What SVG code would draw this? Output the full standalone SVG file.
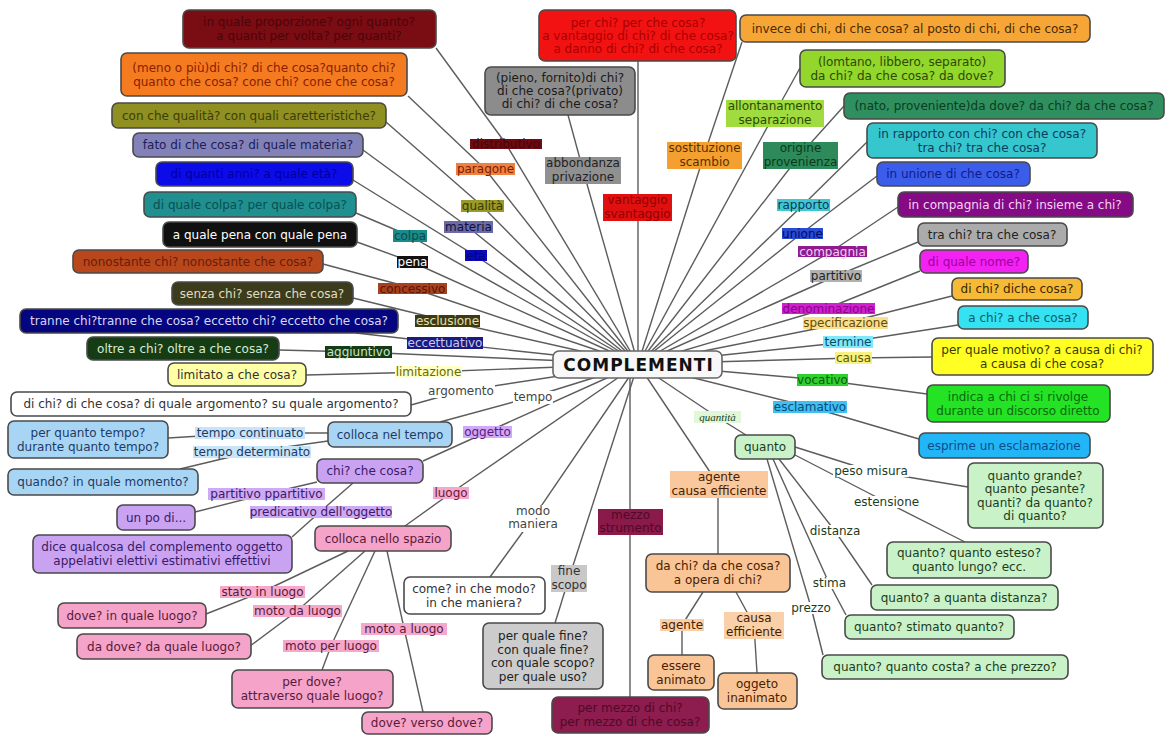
<svg xmlns="http://www.w3.org/2000/svg" width="1165" height="735" viewBox="0 0 1165 735">
<style>
text{font-family:"DejaVu Sans",Verdana,"Liberation Sans",sans-serif;font-size:12px;text-anchor:middle}
text:not([fill]){fill:#333}
.b{stroke:#4a4a4a;stroke-width:1.6}
#connectors line{stroke:#5c5c5c;stroke-width:1.4}
.q{font-family:"Liberation Serif","DejaVu Serif",serif;font-style:italic;font-size:11px}
</style>
<rect width="1165" height="735" fill="#ffffff"/>
<g id="connectors">
<line x1="638" y1="364" x2="506" y2="144"/><line x1="506" y1="144" x2="436" y2="48"/>
<line x1="638" y1="364" x2="485" y2="169"/><line x1="485" y1="169" x2="408" y2="96"/>
<line x1="638" y1="364" x2="482" y2="206"/><line x1="482" y1="206" x2="386" y2="122"/>
<line x1="638" y1="364" x2="468" y2="227"/><line x1="468" y1="227" x2="363" y2="150"/>
<line x1="638" y1="364" x2="476" y2="256"/><line x1="476" y1="256" x2="353" y2="180"/>
<line x1="638" y1="364" x2="410" y2="236"/><line x1="410" y1="236" x2="356" y2="213"/>
<line x1="638" y1="364" x2="412" y2="262"/><line x1="412" y1="262" x2="357" y2="242"/>
<line x1="638" y1="364" x2="412" y2="288"/><line x1="412" y1="288" x2="323" y2="264"/>
<line x1="638" y1="364" x2="447" y2="321"/><line x1="447" y1="321" x2="353" y2="298"/>
<line x1="638" y1="364" x2="444" y2="343"/><line x1="444" y1="343" x2="356" y2="333"/>
<line x1="638" y1="364" x2="358" y2="352"/><line x1="358" y1="352" x2="279" y2="350"/>
<line x1="638" y1="364" x2="428" y2="372"/><line x1="428" y1="372" x2="306" y2="375"/>
<line x1="638" y1="364" x2="461" y2="391"/><line x1="461" y1="391" x2="411" y2="405"/>
<line x1="638" y1="364" x2="532" y2="397"/><line x1="532" y1="397" x2="440" y2="422"/>
<line x1="328" y1="433" x2="250" y2="433"/><line x1="250" y1="433" x2="168" y2="438"/>
<line x1="328" y1="441" x2="251" y2="452"/><line x1="251" y1="452" x2="180" y2="469"/>
<line x1="638" y1="364" x2="487" y2="432"/><line x1="487" y1="432" x2="423" y2="461"/>
<line x1="317" y1="482" x2="266" y2="494"/><line x1="266" y1="494" x2="195" y2="512"/>
<line x1="353" y1="483" x2="321" y2="511"/><line x1="321" y1="511" x2="292" y2="537"/>
<line x1="638" y1="364" x2="451" y2="493"/><line x1="451" y1="493" x2="405" y2="526"/>
<line x1="348" y1="551" x2="262" y2="592"/><line x1="262" y1="592" x2="206" y2="614"/>
<line x1="365" y1="551" x2="297" y2="611"/><line x1="297" y1="611" x2="250" y2="646"/>
<line x1="375" y1="551" x2="331" y2="646"/><line x1="331" y1="646" x2="322" y2="670"/>
<line x1="387" y1="551" x2="404" y2="628"/><line x1="404" y1="628" x2="423" y2="712"/>
<line x1="638" y1="364" x2="533" y2="518"/><line x1="533" y1="518" x2="490" y2="577"/>
<line x1="638" y1="364" x2="569" y2="578"/><line x1="569" y1="578" x2="555" y2="623"/>
<line x1="630" y1="364" x2="630" y2="697"/>
<line x1="638" y1="364" x2="583" y2="170"/><line x1="583" y1="170" x2="568" y2="115"/>
<line x1="638" y1="61" x2="638" y2="364"/>
<line x1="638" y1="364" x2="704" y2="155"/><line x1="704" y1="155" x2="742" y2="42"/>
<line x1="638" y1="364" x2="775" y2="113"/><line x1="775" y1="113" x2="800" y2="68"/>
<line x1="638" y1="364" x2="800" y2="155"/><line x1="800" y1="155" x2="844" y2="106"/>
<line x1="638" y1="364" x2="803" y2="205"/><line x1="803" y1="205" x2="867" y2="142"/>
<line x1="638" y1="364" x2="802" y2="233"/><line x1="802" y1="233" x2="877" y2="176"/>
<line x1="638" y1="364" x2="832" y2="251"/><line x1="832" y1="251" x2="898" y2="207"/>
<line x1="638" y1="364" x2="836" y2="276"/><line x1="836" y1="276" x2="918" y2="242"/>
<line x1="638" y1="364" x2="828" y2="308"/><line x1="828" y1="308" x2="920" y2="271"/>
<line x1="638" y1="364" x2="845" y2="323"/><line x1="845" y1="323" x2="952" y2="296"/>
<line x1="638" y1="364" x2="848" y2="342"/><line x1="848" y1="342" x2="958" y2="325"/>
<line x1="638" y1="364" x2="853" y2="358"/><line x1="853" y1="358" x2="932" y2="357"/>
<line x1="638" y1="364" x2="822" y2="380"/><line x1="822" y1="380" x2="927" y2="394"/>
<line x1="638" y1="364" x2="810" y2="407"/><line x1="810" y1="407" x2="919" y2="439"/>
<line x1="638" y1="364" x2="717" y2="417"/><line x1="717" y1="417" x2="746" y2="435"/>
<line x1="638" y1="364" x2="718" y2="484"/><line x1="718" y1="484" x2="718" y2="554"/>
<line x1="703" y1="592" x2="682" y2="625"/><line x1="682" y1="625" x2="682" y2="655"/>
<line x1="736" y1="592" x2="754" y2="625"/><line x1="754" y1="625" x2="757" y2="673"/>
<line x1="795" y1="447" x2="871" y2="471"/><line x1="871" y1="471" x2="968" y2="487"/>
<line x1="795" y1="455" x2="886" y2="502"/><line x1="886" y1="502" x2="965" y2="542"/>
<line x1="779" y1="459" x2="835" y2="531"/><line x1="835" y1="531" x2="872" y2="585"/>
<line x1="773" y1="459" x2="829" y2="583"/><line x1="829" y1="583" x2="846" y2="615"/>
<line x1="767" y1="459" x2="811" y2="607"/><line x1="811" y1="607" x2="823" y2="655"/>
</g>

<!-- left question boxes -->
<g id="n_distributivo_q"><rect class="b" x="183" y="10" width="253" height="38" rx="6" fill="#7a0c14"/><text x="309" y="26.3" fill="#4b0509">in quale proporzione? ogni quanto?</text><text x="309" y="40.3" fill="#4b0509">a quanti per volta? per quanti?</text></g>
<g id="n_paragone_q"><rect class="b" x="121" y="53" width="286" height="43" rx="6" fill="#f47b20"/><text x="264" y="71.8" fill="#8a2000">(meno o più)di chi? di che cosa?quanto chi?</text><text x="264" y="85.8" fill="#8a2000">quanto che cosa? cone chi? cone che cosa?</text></g>
<g id="n_qualita_q"><rect class="b" x="112" y="103" width="274" height="25" rx="6" fill="#8f8f22"/><text x="249" y="119.8" fill="#3d3d05">con che qualità? con quali caretteristiche?</text></g>
<g id="n_materia_q"><rect class="b" x="133" y="133" width="230" height="24" rx="6" fill="#8282b8"/><text x="248" y="149.3" fill="#1c1c58">fato di che cosa? di quale materia?</text></g>
<g id="n_eta_q"><rect class="b" x="156" y="162" width="197" height="24" rx="6" fill="#0c0ce8"/><text x="254" y="178.3" fill="#00009c">di quanti anni? a quale età?</text></g>
<g id="n_colpa_q"><rect class="b" x="144" y="192" width="212" height="25" rx="6" fill="#1f8f8f"/><text x="250" y="208.8" fill="#0a4f4f">di quale colpa? per quale colpa?</text></g>
<g id="n_pena_q"><rect class="b" x="163" y="222" width="194" height="25" rx="6" fill="#101010"/><text x="260" y="238.8" fill="#ffffff">a quale pena con quale pena</text></g>
<g id="n_concessivo_q"><rect class="b" x="73" y="250" width="250" height="23" rx="6" fill="#b9471c"/><text x="198" y="265.8" fill="#6b1c05">nonostante chi? nonostante che cosa?</text></g>
<g id="n_esclusione_q"><rect class="b" x="172" y="282" width="181" height="23" rx="6" fill="#3c3c1c"/><text x="262" y="297.8" fill="#e0dcc0">senza chi? senza che cosa?</text></g>
<g id="n_eccettuativo_q"><rect class="b" x="20" y="309" width="378" height="24" rx="6" fill="#05057f"/><text x="209" y="325.3" fill="#d8d8f4">tranne chi?tranne che cosa? eccetto chi? eccetto che cosa?</text></g>
<g id="n_aggiuntivo_q"><rect class="b" x="87" y="337" width="192" height="23" rx="6" fill="#163c16"/><text x="183" y="352.8" fill="#d4ecd4">oltre a chi? oltre a che cosa?</text></g>
<g id="n_limitazione_q"><rect class="b" x="168" y="363" width="138" height="23" rx="6" fill="#ffffa6"/><text x="237" y="378.8">limitato a che cosa?</text></g>
<g id="n_argomento_q"><rect class="b" x="11" y="392" width="400" height="24" rx="6" fill="#ffffff"/><text x="211" y="408.3">di chi? di che cosa? di quale argomento? su quale argomento?</text></g>
<g id="n_tempo_q"><rect class="b" x="328" y="422" width="124" height="25" rx="6" fill="#a9d5f5"/><text x="390" y="438.8" fill="#1d3b63">colloca nel tempo</text></g>
<g id="n_tc_q"><rect class="b" x="8" y="421" width="160" height="37" rx="6" fill="#a9d5f5"/><text x="88" y="436.8" fill="#1d3b63">per quanto tempo?</text><text x="88" y="450.8" fill="#1d3b63">durante quanto tempo?</text></g>
<g id="n_td_q"><rect class="b" x="8" y="469" width="190" height="26" rx="6" fill="#a9d5f5"/><text x="103" y="486.3" fill="#1d3b63">quando? in quale momento?</text></g>
<g id="n_oggetto_q"><rect class="b" x="317" y="459" width="106" height="24" rx="6" fill="#caa2f2"/><text x="370" y="475.3" fill="#3a1a6a">chi? che cosa?</text></g>
<g id="n_unpo_q"><rect class="b" x="117" y="505" width="78" height="25" rx="6" fill="#caa2f2"/><text x="156" y="521.8" fill="#3a1a6a">un po di...</text></g>
<g id="n_dice_q"><rect class="b" x="33" y="535" width="259" height="38" rx="6" fill="#caa2f2"/><text x="162" y="551.3" fill="#3a1a6a">dice qualcosa del complemento oggetto</text><text x="162" y="565.3" fill="#3a1a6a">appelativi elettivi estimativi effettivi</text></g>
<g id="n_luogo_q"><rect class="b" x="315" y="526" width="136" height="25" rx="6" fill="#f5a3c9"/><text x="383" y="542.8" fill="#5a1a3a">colloca nello spazio</text></g>
<g id="n_stato_q"><rect class="b" x="58" y="603" width="148" height="25" rx="6" fill="#f5a3c9"/><text x="132" y="619.8" fill="#5a1a3a">dove? in quale luogo?</text></g>
<g id="n_motoda_q"><rect class="b" x="77" y="634" width="174" height="25" rx="6" fill="#f5a3c9"/><text x="164" y="650.8" fill="#5a1a3a">da dove? da quale luogo?</text></g>
<g id="n_motoper_q"><rect class="b" x="232" y="670" width="161" height="38" rx="6" fill="#f5a3c9"/><text x="312" y="686.3" fill="#5a1a3a">per dove?</text><text x="312" y="700.3" fill="#5a1a3a">attraverso quale luogo?</text></g>
<g id="n_motoa_q"><rect class="b" x="362" y="712" width="130" height="22" rx="6" fill="#f5a3c9"/><text x="427" y="727.3" fill="#5a1a3a">dove? verso dove?</text></g>
<g id="n_modo_q"><rect class="b" x="404" y="577" width="141" height="37" rx="6" fill="#ffffff"/><text x="474" y="592.8">come? in che modo?</text><text x="474" y="606.8">in che maniera?</text></g>
<g id="n_fine_q"><rect class="b" x="483" y="623" width="120" height="66" rx="6" fill="#cccccc"/><text x="543" y="640" fill="#222">per quale fine?</text><text x="543" y="653.5" fill="#222">con quale fine?</text><text x="543" y="667" fill="#222">con quale scopo?</text><text x="543" y="680.5" fill="#222">per quale uso?</text></g>
<g id="n_mezzo_q"><rect class="b" x="552" y="697" width="157" height="36" rx="6" fill="#8c1d4e"/><text x="630" y="712.3" fill="#4e0a28">per mezzo di chi?</text><text x="630" y="726.3" fill="#4e0a28">per mezzo di che cosa?</text></g>

<!-- top / right question boxes -->
<g id="n_abbondanza_q"><rect class="b" x="485" y="67" width="150" height="48" rx="6" fill="#8c8c8c"/><text x="560" y="82.3" fill="#1a1a1a">(pieno, fornito)di chi?</text><text x="560" y="95.3" fill="#1a1a1a">di che cosa?(privato)</text><text x="560" y="108.3" fill="#1a1a1a">di chi? di che cosa?</text></g>
<g id="n_vantaggio_q"><rect class="b" x="539" y="10" width="197" height="51" rx="6" fill="#f21212"/><text x="638" y="26.8" fill="#a80000">per chi? per che cosa?</text><text x="638" y="39.8" fill="#a80000">a vantaggio di chi? di che cosa?</text><text x="638" y="52.8" fill="#a80000">a danno di chi? di che cosa?</text></g>
<g id="n_sostituzione_q"><rect class="b" x="740" y="15" width="350" height="27" rx="6" fill="#f6a636"/><text x="915" y="32.8" fill="#4a2a00">invece di chi, di che cosa? al posto di chi, di che cosa?</text></g>
<g id="n_allontanamento_q"><rect class="b" x="800" y="50" width="205" height="37" rx="6" fill="#93d62c"/><text x="902" y="65.8" fill="#2c4a00">(lomtano, libbero, separato)</text><text x="902" y="79.8" fill="#2c4a00">da chi? da che cosa? da dove?</text></g>
<g id="n_origine_q"><rect class="b" x="844" y="93" width="320" height="26" rx="6" fill="#2f8f5f"/><text x="1004" y="110.3" fill="#0c3c20">(nato, proveniente)da dove? da chi? da che cosa?</text></g>
<g id="n_rapporto_q"><rect class="b" x="867" y="123" width="230" height="35" rx="6" fill="#36c6ce"/><text x="982" y="137.8" fill="#0c3c5c">in rapporto con chi? con che cosa?</text><text x="982" y="151.8" fill="#0c3c5c">tra chi? tra che cosa?</text></g>
<g id="n_unione_q"><rect class="b" x="877" y="162" width="153" height="24" rx="6" fill="#3c5cea"/><text x="953" y="178.3" fill="#0c1c8c">in unione di che cosa?</text></g>
<g id="n_compagnia_q"><rect class="b" x="898" y="192" width="235" height="25" rx="6" fill="#850a85"/><text x="1015" y="208.8" fill="#f4d4f4">in compagnia di chi? insieme a chi?</text></g>
<g id="n_partitivo_q"><rect class="b" x="918" y="223" width="149" height="23" rx="6" fill="#ababab"/><text x="992" y="238.8" fill="#222">tra chi? tra che cosa?</text></g>
<g id="n_denominazione_q"><rect class="b" x="920" y="250" width="108" height="23" rx="6" fill="#f222f2"/><text x="974" y="265.8" fill="#a000a0">di quale nome?</text></g>
<g id="n_specificazione_q"><rect class="b" x="952" y="278" width="130" height="22" rx="6" fill="#f6ba36"/><text x="1017" y="293.3" fill="#3a2800">di chi? diche cosa?</text></g>
<g id="n_termine_q"><rect class="b" x="958" y="306" width="130" height="23" rx="6" fill="#34e2f2"/><text x="1023" y="321.8" fill="#0c5a6a">a chi? a che cosa?</text></g>
<g id="n_causa_q"><rect class="b" x="932" y="338" width="221" height="37" rx="6" fill="#ffff24"/><text x="1042" y="353.8" fill="#3a3a00">per quale motivo? a causa di chi?</text><text x="1042" y="367.8" fill="#3a3a00">a causa di che cosa?</text></g>
<g id="n_vocativo_q"><rect class="b" x="927" y="385" width="183" height="37" rx="6" fill="#24e224"/><text x="1018" y="400.8" fill="#0c6a0c">indica a chi ci si rivolge</text><text x="1018" y="414.8" fill="#0c6a0c">durante un discorso diretto</text></g>
<g id="n_esclamativo_q"><rect class="b" x="919" y="433" width="171" height="25" rx="6" fill="#22b6f6"/><text x="1004" y="449.8" fill="#0c4c8c">esprime un esclamazione</text></g>
<g id="n_quanto"><rect class="b" x="735" y="435" width="60" height="24" rx="6" fill="#c9f2c9"/><text x="765" y="451.3" fill="#1c3c1c">quanto</text></g>
<g id="n_peso_q"><rect class="b" x="968" y="463" width="135" height="65" rx="6" fill="#c9f2c9"/><text x="1035" y="479.5" fill="#1c3c1c">quanto grande?</text><text x="1035" y="493" fill="#1c3c1c">quanto pesante?</text><text x="1035" y="506.5" fill="#1c3c1c">quanti? da quanto?</text><text x="1035" y="520" fill="#1c3c1c">di quanto?</text></g>
<g id="n_estensione_q"><rect class="b" x="887" y="542" width="164" height="36" rx="6" fill="#c9f2c9"/><text x="969" y="557.3" fill="#1c3c1c">quanto? quanto esteso?</text><text x="969" y="571.3" fill="#1c3c1c">quanto lungo? ecc.</text></g>
<g id="n_distanza_q"><rect class="b" x="871" y="585" width="187" height="25" rx="6" fill="#c9f2c9"/><text x="964" y="601.8" fill="#1c3c1c">quanto? a quanta distanza?</text></g>
<g id="n_stima_q"><rect class="b" x="845" y="615" width="169" height="24" rx="6" fill="#c9f2c9"/><text x="929" y="631.3" fill="#1c3c1c">quanto? stimato quanto?</text></g>
<g id="n_prezzo_q"><rect class="b" x="822" y="655" width="246" height="24" rx="6" fill="#c9f2c9"/><text x="945" y="671.3" fill="#1c3c1c">quanto? quanto costa? a che prezzo?</text></g>
<g id="n_agente_q"><rect class="b" x="646" y="554" width="144" height="38" rx="6" fill="#f9c596"/><text x="718" y="570.3" fill="#4a2000">da chi? da che cosa?</text><text x="718" y="584.3" fill="#4a2000">a opera di chi?</text></g>
<g id="n_essere"><rect class="b" x="648" y="655" width="66" height="35" rx="6" fill="#f9c596"/><text x="681" y="669.8" fill="#4a2000">essere</text><text x="681" y="683.8" fill="#4a2000">animato</text></g>
<g id="n_oggeto"><rect class="b" x="718" y="673" width="79" height="36" rx="6" fill="#f9c596"/><text x="757" y="688.3" fill="#4a2000">oggeto</text><text x="757" y="702.3" fill="#4a2000">inanimato</text></g>

<!-- labels -->
<g id="l_distributivo"><rect x="470" y="139" width="72" height="10" fill="#6e0a10"/><text x="506" y="148.3" fill="#45050a">distributivo</text></g>
<g id="l_paragone"><rect x="456" y="163" width="59" height="12" fill="#f08040"/><text x="485.5" y="173.3" fill="#7a2000">paragone</text></g>
<g id="l_qualita"><rect x="461" y="200" width="43" height="12" fill="#9a9a2a"/><text x="482.5" y="210.3" fill="#3a3a00">qualità</text></g>
<g id="l_materia"><rect x="444" y="221" width="49" height="12" fill="#6a6aa4"/><text x="468.5" y="231.3" fill="#101040">materia</text></g>
<g id="l_eta"><rect x="465" y="250" width="22" height="11" fill="#0a0ab8"/><text x="476" y="259.8" fill="#000080">età</text></g>
<g id="l_colpa"><rect x="393" y="230" width="34" height="12" fill="#1a8a8a"/><text x="410" y="240.3" fill="#0a4a4a">colpa</text></g>
<g id="l_pena"><rect x="397" y="256" width="31" height="12" fill="#111111"/><text x="412.5" y="266.3" fill="#ffffff">pena</text></g>
<g id="l_concessivo"><rect x="378" y="283" width="69" height="11" fill="#a84020"/><text x="412.5" y="292.8" fill="#5a1500">concessivo</text></g>
<g id="l_esclusione"><rect x="415" y="315" width="65" height="12" fill="#3a3a1a"/><text x="447.5" y="325.3" fill="#e8e0a0">esclusione</text></g>
<g id="l_eccettuativo"><rect x="407" y="337" width="76" height="12" fill="#1a1a80"/><text x="445" y="347.3" fill="#c8c8f0">eccettuativo</text></g>
<g id="l_aggiuntivo"><rect x="325" y="346" width="67" height="12" fill="#163c16"/><text x="358.5" y="356.3" fill="#c8e4c8">aggiuntivo</text></g>
<g id="l_limitazione"><rect x="395" y="366" width="67" height="12" fill="#ffffc8"/><text x="428.5" y="376.3" fill="#6a6a00">limitazione</text></g>
<g id="l_argomento"><rect x="427" y="385" width="68" height="13" fill="#ffffff"/><text x="461" y="395.3" fill="#444">argomento</text></g>
<g id="l_tempo"><rect x="513" y="391" width="40" height="13" fill="#ffffff"/><text x="533" y="401.3" fill="#444">tempo</text></g>
<g id="l_tc"><rect x="195" y="427" width="110" height="12" fill="#c8e4f8"/><text x="250" y="437.3" fill="#1d3b63">tempo continuato</text></g>
<g id="l_td"><rect x="193" y="446" width="118" height="12" fill="#c8e4f8"/><text x="252" y="456.3" fill="#1d3b63">tempo determinato</text></g>
<g id="l_oggetto"><rect x="463" y="426" width="49" height="12" fill="#d0a8f4"/><text x="487.5" y="436.3" fill="#5a1a8a">oggetto</text></g>
<g id="l_partitivo2"><rect x="208" y="488" width="117" height="12" fill="#cfaaf2"/><text x="266.5" y="498.3" fill="#3a1a6a">partitivo ppartitivo</text></g>
<g id="l_predicativo"><rect x="250" y="506" width="142" height="12" fill="#cfaaf2"/><text x="321" y="516.3" fill="#3a1a6a">predicativo dell'oggetto</text></g>
<g id="l_luogo"><rect x="433" y="487" width="36" height="12" fill="#f5a8cc"/><text x="451" y="497.3" fill="#6a1a3a">luogo</text></g>
<g id="l_stato"><rect x="220" y="586" width="85" height="12" fill="#f5a8cc"/><text x="262.5" y="596.3" fill="#5a1a3a">stato in luogo</text></g>
<g id="l_motoda"><rect x="253" y="605" width="89" height="12" fill="#f5a8cc"/><text x="297.5" y="615.3" fill="#5a1a3a">moto da luogo</text></g>
<g id="l_motoper"><rect x="283" y="640" width="96" height="12" fill="#f5a8cc"/><text x="331" y="650.3" fill="#5a1a3a">moto per luogo</text></g>
<g id="l_motoa"><rect x="361" y="623" width="86" height="12" fill="#f5a8cc"/><text x="404" y="633.3" fill="#5a1a3a">moto a luogo</text></g>
<g id="l_modo"><rect x="510" y="505" width="46" height="27" fill="#ffffff"/><text x="533" y="514.5" fill="#444">modo</text><text x="533" y="528" fill="#444">maniera</text></g>
<g id="l_fine"><rect x="551" y="565" width="36" height="27" fill="#c8c8c8"/><text x="569" y="575" fill="#333">fine</text><text x="569" y="588.5" fill="#333">scopo</text></g>
<g id="l_mezzo"><rect x="598" y="509" width="65" height="26" fill="#8a1a4a"/><text x="630.5" y="518.5" fill="#4e0a28">mezzo</text><text x="630.5" y="532" fill="#4e0a28">strumento</text></g>
<g id="l_abbondanza"><rect x="545" y="157" width="76" height="27" fill="#909090"/><text x="583" y="167" fill="#222">abbondanza</text><text x="583" y="180.5" fill="#222">privazione</text></g>
<g id="l_vantaggio"><rect x="603" y="194" width="69" height="27" fill="#e01010"/><text x="637.5" y="204" fill="#900000">vantaggio</text><text x="637.5" y="217.5" fill="#900000">svantaggio</text></g>
<g id="l_sostituzione"><rect x="667" y="142" width="75" height="27" fill="#f4a030"/><text x="704.5" y="152" fill="#5a3000">sostituzione</text><text x="704.5" y="165.5" fill="#5a3000">scambio</text></g>
<g id="l_allontanamento"><rect x="726" y="100" width="98" height="27" fill="#a0dc40"/><text x="775" y="110" fill="#2a4a00">allontanamento</text><text x="775" y="123.5" fill="#2a4a00">separazione</text></g>
<g id="l_origine"><rect x="763" y="142" width="75" height="27" fill="#2e8a5a"/><text x="800.5" y="152" fill="#0a3a1a">origine</text><text x="800.5" y="165.5" fill="#0a3a1a">provenienza</text></g>
<g id="l_rapporto"><rect x="777" y="199" width="53" height="12" fill="#40c8d0"/><text x="803.5" y="209.3" fill="#0a3a5a">rapporto</text></g>
<g id="l_unione"><rect x="782" y="228" width="41" height="11" fill="#2a4ad0"/><text x="802.5" y="237.8" fill="#000a6a">unione</text></g>
<g id="l_compagnia"><rect x="798" y="246" width="69" height="11" fill="#901a90"/><text x="832.5" y="255.8" fill="#f0d0f0">compagnia</text></g>
<g id="l_partitivo"><rect x="810" y="270" width="52" height="12" fill="#b0b0b0"/><text x="836" y="280.3" fill="#222">partitivo</text></g>
<g id="l_denominazione"><rect x="782" y="303" width="93" height="11" fill="#d020d0"/><text x="828.5" y="312.8" fill="#8a008a">denominazione</text></g>
<g id="l_specificazione"><rect x="803" y="317" width="85" height="12" fill="#f8e090"/><text x="845.5" y="327.3" fill="#6a4a00">specificazione</text></g>
<g id="l_termine"><rect x="823" y="336" width="50" height="12" fill="#80e8f8"/><text x="848" y="346.3" fill="#0a4a6a">termine</text></g>
<g id="l_causa"><rect x="835" y="352" width="37" height="12" fill="#f8f080"/><text x="853.5" y="362.3" fill="#5a5a00">causa</text></g>
<g id="l_vocativo"><rect x="797" y="374" width="51" height="12" fill="#30d030"/><text x="822.5" y="384.3" fill="#0a5a0a">vocativo</text></g>
<g id="l_esclamativo"><rect x="773" y="401" width="74" height="12" fill="#40c0f0"/><text x="810" y="411.3" fill="#0a4a7a">esclamativo</text></g>
<g id="l_quantita"><rect x="694" y="411" width="47" height="12" fill="#e0f8d8"/><text class="q" x="717.5" y="420.5" fill="#1a3a1a">quantità</text></g>
<g id="l_peso"><rect x="833" y="465" width="76" height="12" fill="#ffffff"/><text x="871" y="475.3" fill="#1c3c1c">peso misura</text></g>
<g id="l_estensione"><rect x="853" y="496" width="67" height="12" fill="#ffffff"/><text x="886.5" y="506.3" fill="#1c3c1c">estensione</text></g>
<g id="l_distanza"><rect x="809" y="525" width="52" height="12" fill="#ffffff"/><text x="835" y="535.3" fill="#1c3c1c">distanza</text></g>
<g id="l_stima"><rect x="811" y="577" width="37" height="12" fill="#ffffff"/><text x="829.5" y="587.3" fill="#1c3c1c">stima</text></g>
<g id="l_prezzo"><rect x="791" y="602" width="40" height="12" fill="#ffffff"/><text x="811" y="612.3" fill="#1c3c1c">prezzo</text></g>
<g id="l_agente_ce"><rect x="670" y="471" width="98" height="27" fill="#f9c89c"/><text x="719" y="481" fill="#4a2000">agente</text><text x="719" y="494.5" fill="#4a2000">causa efficiente</text></g>
<g id="l_agente"><rect x="660" y="619" width="44" height="12" fill="#f9d0a8"/><text x="682" y="629.3" fill="#4a2000">agente</text></g>
<g id="l_causaeff"><rect x="724" y="612" width="60" height="27" fill="#f9d0a8"/><text x="754" y="622" fill="#4a2000">causa</text><text x="754" y="635.5" fill="#4a2000">efficiente</text></g>

<!-- centre -->
<g id="n_complementi"><rect x="553" y="351" width="169" height="27" rx="6" fill="#f8f8f8" stroke="#666" stroke-width="1.6"/><text x="638.5" y="371" style="font-weight:bold;font-size:17px;letter-spacing:1px" fill="#111">COMPLEMENTI</text></g>
</svg>
